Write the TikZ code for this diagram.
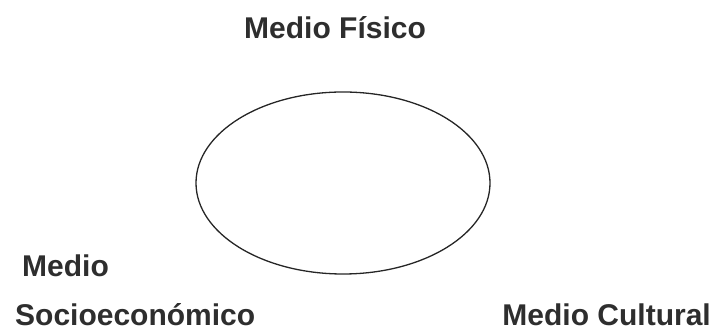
\documentclass[tikz,border=0pt]{standalone}
\usepackage{fontspec}
\setmainfont{Liberation Sans}
\begin{document}
\begin{tikzpicture}[x=1pt,y=1pt,
  lbl/.style={inner sep=0pt, text=black!82, font=\fontsize{30}{35}\selectfont\bfseries}]
\useasboundingbox (0,0) rectangle (715,331);
\draw[line width=1.3pt, black!85] (343,148) ellipse [x radius=147, y radius=91];
\node[lbl, anchor=base west] (fis) at (244,292) {Medio Físico};
\node[lbl, anchor=base west] (med) at (22,54) {Medio};
\node[lbl, anchor=base west] (soc) at (15,5) {Socioeconómico};
\node[lbl, anchor=base east] (cul) at (711,5) {Medio Cultural};
\end{tikzpicture}
\end{document}
